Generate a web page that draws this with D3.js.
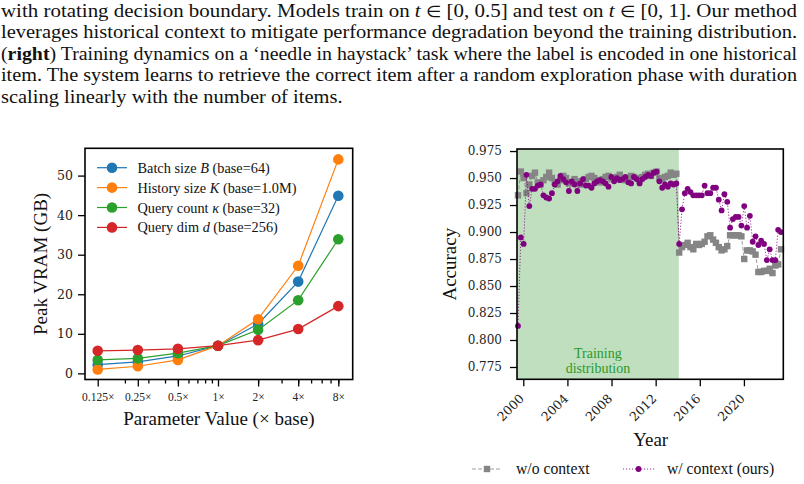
<!DOCTYPE html>
<html>
<head>
<meta charset="utf-8">
<script src="https://cdn.jsdelivr.net/npm/d3@7"></script>
<style>
  body { margin: 0; background: #fff; }
  svg { display: block; }
</style>
</head>
<body>
<script>
// ---- caption text (segments: t = text, it = italic, b = bold, m = math symbol) ----
const captionLines = [
    [{t: "with rotating decision boundary.  Models train on "}, {t: "t", it: true}, {t: " "}, {t: "∈", m: true}, {t: " [0, 0.5] and test on "}, {t: "t", it: true}, {t: " "}, {t: "∈", m: true}, {t: " [0, 1]. Our method"}],
    [{t: "leverages historical context to mitigate performance degradation beyond the training distribution."}],
    [{t: "("}, {t: "right", b: true}, {t: ") Training dynamics on a ‘needle in haystack’ task where the label is encoded in one historical"}],
    [{t: "item. The system learns to retrieve the correct item after a random exploration phase with duration"}],
    [{t: "scaling linearly with the number of items."}]
];

// ---- left chart: peak VRAM vs parameter multiplier ----
const paramValues = [0.125, 0.25, 0.5, 1, 2, 4, 8];
const paramLabels = ["0.125×", "0.25×", "0.5×", "1×", "2×", "4×", "8×"];
const paramMinor = [0.2, 0.3, 0.4, 0.5, 0.6, 0.7, 0.8, 0.9, 2, 3, 4, 5, 6, 7, 8];
const vramTicks = [0, 10, 20, 30, 40, 50];

const batchSize   = [2.2, 2.9, 4.4, 7.0, 12.5, 23.2, 44.9];
const historySize = [1.0, 1.8, 3.4, 7.0, 13.7, 27.2, 54.1];
const queryCount  = [3.4, 3.8, 5.1, 7.0, 11.0, 18.5, 33.9];
const queryDim    = [5.7, 5.9, 6.2, 7.0, 8.4, 11.2, 17.0];

const vramSeries = [
    {name: [{t: "Batch size "}, {t: "B", it: true}, {t: " (base=64)"}], color: "#1f77b4", values: batchSize},
    {name: [{t: "History size "}, {t: "K", it: true}, {t: " (base=1.0M)"}], color: "#ff7f0e", values: historySize},
    {name: [{t: "Query count "}, {t: "κ", it: true}, {t: " (base=32)"}], color: "#2ca02c", values: queryCount},
    {name: [{t: "Query dim "}, {t: "d", it: true}, {t: " (base=256)"}], color: "#d62728", values: queryDim}
];

// ---- right chart: accuracy over time ----
const yearTicks = [2000, 2004, 2008, 2012, 2016, 2020];
const accTicks = [0.775, 0.800, 0.825, 0.850, 0.875, 0.900, 0.925, 0.950, 0.975];
const firstYear = 1999.52, lastYear = 2023.36;
const trainEndYear = 2014.1;

const accNoContext = [
    0.934, 0.956, 0.950, 0.936, 0.944, 0.952, 0.955, 0.946, 0.944, 0.948,
    0.951, 0.955, 0.950, 0.946, 0.944, 0.948, 0.952, 0.950, 0.945, 0.946,
    0.949, 0.947, 0.944, 0.946, 0.949, 0.951, 0.952, 0.950, 0.948, 0.946,
    0.949, 0.951, 0.952, 0.950, 0.949, 0.951, 0.953, 0.950, 0.948, 0.949,
    0.952, 0.951, 0.950, 0.948, 0.951, 0.953, 0.954, 0.952, 0.955, 0.956,
    0.950, 0.949, 0.951, 0.952, 0.955, 0.953, 0.954,
    0.881, 0.886, 0.888, 0.890, 0.886, 0.884, 0.889, 0.888, 0.889, 0.891,
    0.896, 0.897, 0.893, 0.890, 0.886, 0.883, 0.884, 0.887, 0.897, 0.897,
    0.897, 0.897, 0.896, 0.875, 0.883, 0.883, 0.882, 0.879, 0.863, 0.863,
    0.864, 0.864, 0.866, 0.862, 0.869, 0.870, 0.884
];
const accWithContext = [
    0.813, 0.895, 0.889, 0.953, 0.924, 0.940, 0.940, 0.943, 0.944, 0.934,
    0.932, 0.931, 0.936, 0.944, 0.947, 0.952, 0.949, 0.946, 0.938, 0.947,
    0.944, 0.938, 0.945, 0.949, 0.943, 0.943, 0.941, 0.945, 0.947, 0.948,
    0.947, 0.945, 0.942, 0.951, 0.947, 0.950, 0.948, 0.949, 0.951, 0.946,
    0.945, 0.951, 0.949, 0.945, 0.949, 0.951, 0.953, 0.952, 0.955, 0.956,
    0.947, 0.941, 0.944, 0.942, 0.945, 0.944, 0.945,
    0.889, 0.921, 0.936, 0.940, 0.937, 0.934, 0.934, 0.934, 0.934, 0.943,
    0.936, 0.936, 0.941, 0.941, 0.930, 0.920, 0.935, 0.928, 0.904, 0.912,
    0.914, 0.914, 0.906, 0.924, 0.904, 0.915, 0.891, 0.896, 0.888, 0.892,
    0.889, 0.874, 0.884, 0.874, 0.874, 0.902, 0.900
];

const serif = "'Liberation Serif', 'Times New Roman', serif";
const tickFont = "'DejaVu Serif', serif";

const svg = d3.select("body").append("svg")
    .attr("width", 804)
    .attr("height", 484)
    .style("font-family", serif);

const addRich = (text, parts) => {
    parts.forEach(p => {
        text.append("tspan")
            .attr("font-style", p.it ? "italic" : null)
            .attr("font-weight", p.b ? "bold" : null)
            .attr("font-size", p.m ? "0.85em" : null)
            .text(p.t);
    });
    return text;
};

// ---- caption ----
const capLeft = 1, capRight = 797, capBase = 16.5, capLead = 21.5;
const capTexts = captionLines.map((parts, i) => addRich(
    svg.append("text")
        .attr("x", capLeft)
        .attr("y", capBase + i * capLead)
        .attr("font-size", 19)
        .attr("fill", "#111"), parts));
const natural = capTexts[1].node().getComputedTextLength();
const stretch = (capRight - capLeft) / natural;
capTexts.forEach((t, i) => {
    const len = i < captionLines.length - 1 ? capRight - capLeft : t.node().getComputedTextLength() * stretch;
    t.attr("textLength", len).attr("lengthAdjust", "spacingAndGlyphs");
});

const styleAxis = (g, size, family) => {
    g.attr("font-size", size).attr("font-family", family);
    g.select(".domain").remove();
    g.selectAll(".tick line").attr("stroke", "#000").attr("stroke-width", 1.3);
    g.selectAll(".tick text").attr("fill", "#222");
};

// ================= left chart =================
const L = {x0: 85, x1: 352.7, y0: 148.3, y1: 379.5};
const xL = d3.scaleLog().domain([Math.pow(2, -3.317), Math.pow(2, 3.359)]).range([L.x0, L.x1]);
const yL = d3.scaleLinear().domain([-1.55, 56.9]).range([L.y1, L.y0]);

const gl = svg.append("g");

gl.append("g")
    .attr("transform", `translate(${L.x0},0)`)
    .call(d3.axisLeft(yL).tickValues(vramTicks).tickSize(7).tickPadding(5))
    .call(g => styleAxis(g, 12.5, tickFont));

gl.append("g")
    .attr("transform", `translate(0,${L.y1})`)
    .call(d3.axisBottom(xL).tickValues(paramMinor).tickSize(4).tickFormat(""))
    .call(g => styleAxis(g, 10, serif));

gl.append("g")
    .attr("transform", `translate(0,${L.y1})`)
    .call(d3.axisBottom(xL).tickValues(paramValues).tickSize(7).tickPadding(6)
        .tickFormat((d, i) => paramLabels[i]))
    .call(g => styleAxis(g, 11.5, serif));

const lineL = d3.line()
    .x((d, i) => xL(paramValues[i]))
    .y(d => yL(d));

vramSeries.forEach(s => {
    gl.append("path")
        .datum(s.values)
        .attr("fill", "none")
        .attr("stroke", s.color)
        .attr("stroke-width", 1.2)
        .attr("d", lineL);
    gl.selectAll(null)
        .data(s.values)
        .join("circle")
        .attr("cx", (d, i) => xL(paramValues[i]))
        .attr("cy", d => yL(d))
        .attr("r", 5.3)
        .attr("fill", s.color);
});

gl.append("rect")
    .attr("x", L.x0).attr("y", L.y0)
    .attr("width", L.x1 - L.x0).attr("height", L.y1 - L.y0)
    .attr("fill", "none").attr("stroke", "#000").attr("stroke-width", 1.6);

// legend
const legL = gl.append("g").attr("transform", "translate(97,167.7)");
vramSeries.forEach((s, i) => {
    const row = legL.append("g").attr("transform", `translate(0,${i * 19.9})`);
    row.append("line").attr("x1", 0).attr("x2", 30).attr("stroke", s.color).attr("stroke-width", 1.2);
    row.append("circle").attr("cx", 15).attr("r", 5.3).attr("fill", s.color);
    addRich(row.append("text").attr("x", 40.5).attr("y", 5).attr("font-size", 14.3).attr("fill", "#111"), s.name);
});

gl.append("text")
    .attr("x", (L.x0 + L.x1) / 2)
    .attr("y", 425)
    .attr("text-anchor", "middle")
    .attr("font-size", 19)
    .attr("fill", "#111")
    .text("Parameter Value (× base)");

gl.append("text")
    .attr("transform", `translate(47,${(L.y0 + L.y1) / 2}) rotate(-90)`)
    .attr("text-anchor", "middle")
    .attr("font-size", 19)
    .attr("fill", "#111")
    .text("Peak VRAM (GB)");

// ================= right chart =================
const R = {x0: 517, x1: 783.3, y0: 149, y1: 379.3};
const xR = d3.scaleLinear().domain([1999.43, 2023.57]).range([R.x0, R.x1]);
const yR = d3.scaleLinear().domain([0.7636, 0.9769]).range([R.y1, R.y0]);
const idxToYear = d3.scaleLinear().domain([0, accNoContext.length - 1]).range([firstYear, lastYear]);

const gr = svg.append("g");

gr.append("rect")
    .attr("x", R.x0).attr("y", R.y0)
    .attr("width", xR(trainEndYear) - R.x0).attr("height", R.y1 - R.y0)
    .attr("fill", "#bfdfbf");

gr.append("text")
    .attr("x", (R.x0 + xR(trainEndYear)) / 2)
    .attr("y", 357.5)
    .attr("text-anchor", "middle")
    .attr("font-size", 14)
    .attr("fill", "#2a9a2a")
    .selectAll("tspan")
    .data(["Training", "distribution"])
    .join("tspan")
    .attr("x", (R.x0 + xR(trainEndYear)) / 2)
    .attr("dy", (d, i) => i === 0 ? 0 : 15)
    .text(d => d);

gr.append("g")
    .attr("transform", `translate(${R.x0},0)`)
    .call(d3.axisLeft(yR).tickValues(accTicks).tickSize(7).tickPadding(8).tickFormat(d3.format(".3f")))
    .call(g => styleAxis(g, 12, tickFont));

gr.append("g")
    .attr("transform", `translate(0,${R.y1})`)
    .call(d3.axisBottom(xR).tickValues(yearTicks).tickSize(7).tickFormat(d => d))
    .call(g => styleAxis(g, 12.5, tickFont))
    .call(g => g.selectAll(".tick text")
        .attr("x", null).attr("y", null)
        .attr("dy", "0.35em")
        .attr("text-anchor", "end")
        .attr("transform", "translate(-2,17) rotate(-45)"));

const lineR = d3.line()
    .x((d, i) => xR(idxToYear(i)))
    .y(d => yR(d));

// w/o context
gr.append("path")
    .datum(accNoContext)
    .attr("fill", "none")
    .attr("stroke", "#808080")
    .attr("stroke-opacity", 0.75)
    .attr("stroke-width", 1)
    .attr("stroke-dasharray", "4,2")
    .attr("d", lineR);
gr.selectAll(".sq")
    .data(accNoContext)
    .join("rect")
    .attr("class", "sq")
    .attr("x", (d, i) => xR(idxToYear(i)) - 3.2)
    .attr("y", d => yR(d) - 3.2)
    .attr("width", 6.4).attr("height", 6.4)
    .attr("fill", "#858585");

// w/ context
gr.append("path")
    .datum(accWithContext)
    .attr("fill", "none")
    .attr("stroke", "#800080")
    .attr("stroke-opacity", 0.8)
    .attr("stroke-width", 1)
    .attr("stroke-dasharray", "1.2,1.8")
    .attr("d", lineR);
gr.selectAll(".dot")
    .data(accWithContext)
    .join("circle")
    .attr("class", "dot")
    .attr("cx", (d, i) => xR(idxToYear(i)))
    .attr("cy", d => yR(d))
    .attr("r", 2.9)
    .attr("fill", "#800080");

gr.append("rect")
    .attr("x", R.x0).attr("y", R.y0)
    .attr("width", R.x1 - R.x0).attr("height", R.y1 - R.y0)
    .attr("fill", "none").attr("stroke", "#000").attr("stroke-width", 1.6);

gr.append("text")
    .attr("x", 650.7)
    .attr("y", 446)
    .attr("text-anchor", "middle")
    .attr("font-size", 19)
    .attr("fill", "#111")
    .text("Year");

gr.append("text")
    .attr("transform", `translate(456,${(R.y0 + R.y1) / 2}) rotate(-90)`)
    .attr("text-anchor", "middle")
    .attr("font-size", 19)
    .attr("fill", "#111")
    .text("Accuracy");

// bottom legend
const legR = svg.append("g").attr("transform", "translate(0,469)");
const g1 = legR.append("g").attr("transform", "translate(472,0)");
g1.append("line").attr("x1", 0).attr("x2", 30)
    .attr("stroke", "#808080").attr("stroke-opacity", 0.75).attr("stroke-dasharray", "4,2");
g1.append("rect").attr("x", 11.8).attr("y", -3.2).attr("width", 6.4).attr("height", 6.4).attr("fill", "#858585");
g1.append("text").attr("x", 44).attr("y", 5).attr("font-size", 15.7).attr("fill", "#111").text("w/o context");

const g2 = legR.append("g").attr("transform", "translate(623,0)");
g2.append("line").attr("x1", 0).attr("x2", 32)
    .attr("stroke", "#800080").attr("stroke-opacity", 0.8).attr("stroke-dasharray", "1.2,1.8");
g2.append("circle").attr("cx", 15.5).attr("r", 2.9).attr("fill", "#800080");
g2.append("text").attr("x", 44).attr("y", 5).attr("font-size", 15.7).attr("fill", "#111").text("w/ context (ours)");
</script>
</body>
</html>
